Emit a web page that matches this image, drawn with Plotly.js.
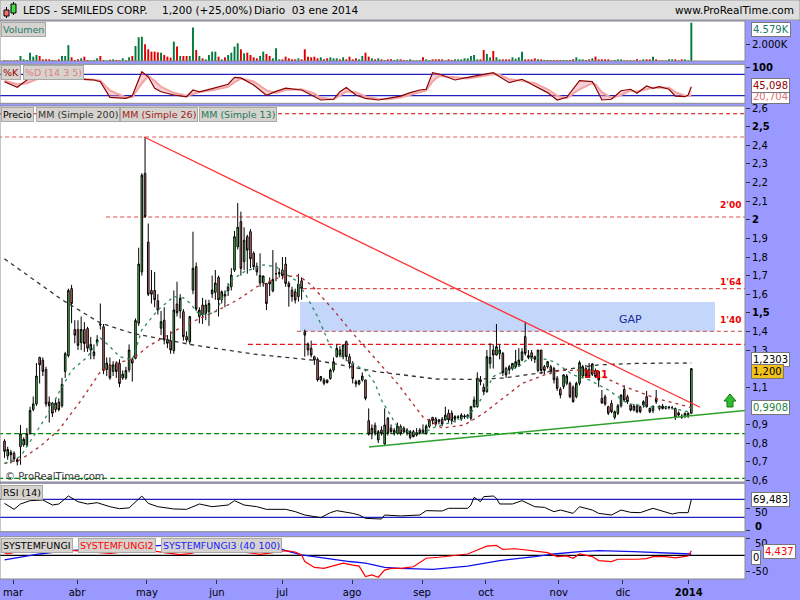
<!DOCTYPE html>
<html><head><meta charset="utf-8">
<script src="https://cdn.plot.ly/plotly-3.0.1.min.js"></script>
<style>html,body{margin:0;padding:0;background:#9999ff;}#chart{width:800px;height:600px;}</style>
</head><body><div id="chart"></div>
<script>
// ---------- DATA ----------
const priceOpen = [
0.81,0.73,0.75,0.745,0.71,0.78,0.79,0.79,0.85,0.98,
1.01,1.26,1.245,1.195,1.02,1.015,0.98,1.02,1.0,1.185,
1.27,1.63,1.41,1.41,1.34,1.41,1.415,1.30,1.27,1.34,
1.44,1.425,1.195,1.22,1.185,1.228,1.228,1.15,1.15,1.193,
1.25,1.255,1.444,1.72,2.25,1.88,1.62,1.62,1.565,1.417,
1.46,1.357,1.35,1.297,1.547,1.51,1.506,1.372,1.345,1.622,
1.748,1.48,1.542,1.497,1.506,1.602,1.61,1.69,1.57,1.60,
1.62,1.64,1.73,1.855,1.99,1.775,1.909,1.936,1.82,1.75,
1.66,1.662,1.658,1.668,1.618,1.71,1.71,1.73,1.762,1.658,
1.622,1.613,1.587,1.672,1.398,1.332,1.309,1.264,1.25,1.139,
1.139,1.139,1.147,1.192,1.264,1.30,1.264,1.345,1.264,1.228,
1.13,1.117,1.139,1.139,0.92,0.848,0.895,0.816,0.87,0.795,
0.933,0.88,0.852,0.852,0.888,0.88,0.87,0.83,0.861,0.843,
0.87,0.87,0.85,0.89,0.938,0.93,0.924,0.928,0.924,0.96,
0.96,0.928,0.938,0.931,0.94,0.94,0.933,0.995,0.995,1.14,
1.10,1.076,1.228,1.30,1.273,1.28,1.282,1.20,1.21,1.20,
1.21,1.22,1.246,1.372,1.27,1.285,1.264,1.19,1.30,1.21,
1.21,1.21,1.20,1.148,1.089,1.103,1.121,1.121,1.10,1.049,
1.121,1.16,1.20,1.196,1.17,1.19,1.184,1.04,1.049,0.995,
1.013,0.938,0.96,1.0,1.088,1.049,1.004,0.977,0.999,0.995,
1.004,1.049,0.986,0.974,1.04,0.986,0.999,0.995,0.99,0.99,
0.986,0.962,0.945,0.941,0.945,0.96];
const priceHigh = [
0.82,0.78,0.763,0.755,0.72,0.897,0.83,0.88,0.995,1.05,
1.23,1.264,1.26,1.21,1.05,1.02,1.04,1.04,1.15,1.29,
1.63,1.65,1.46,1.46,1.48,1.45,1.425,1.37,1.33,1.38,
1.55,1.44,1.26,1.26,1.24,1.24,1.25,1.19,1.21,1.33,
1.26,1.47,1.85,2.25,2.445,1.98,1.73,1.72,1.60,1.51,
1.53,1.38,1.40,1.62,1.667,1.60,1.52,1.40,1.48,1.936,
1.77,1.53,1.58,1.57,1.57,1.70,1.73,1.70,1.62,1.62,
1.66,1.74,1.94,2.09,2.044,1.96,1.92,1.95,1.83,1.77,
1.82,1.70,1.66,1.69,1.837,1.77,1.74,1.80,1.80,1.67,
1.64,1.63,1.71,1.69,1.41,1.34,1.35,1.27,1.26,1.16,
1.15,1.14,1.20,1.26,1.33,1.32,1.33,1.35,1.28,1.24,
1.14,1.14,1.18,1.14,0.986,0.90,0.91,0.87,0.89,0.986,
0.94,0.90,0.88,0.91,0.90,0.89,0.88,0.87,0.87,0.88,
0.88,0.90,0.90,0.93,0.94,0.94,0.93,0.94,0.995,0.98,
0.975,0.95,0.95,0.96,0.955,0.955,1.0,1.05,1.18,1.16,
1.12,1.30,1.336,1.33,1.44,1.33,1.29,1.21,1.22,1.23,
1.30,1.31,1.31,1.452,1.30,1.30,1.27,1.30,1.30,1.22,
1.24,1.22,1.21,1.16,1.10,1.17,1.17,1.13,1.11,1.13,
1.243,1.22,1.22,1.23,1.23,1.20,1.19,1.085,1.06,1.0,
1.03,0.975,1.01,1.06,1.11,1.06,1.01,1.01,1.01,1.0,
1.03,1.08,0.99,1.0,1.085,1.0,1.01,1.0,1.0,1.0,
0.99,0.97,0.955,0.965,0.965,1.20];
const priceLow = [
0.72,0.71,0.69,0.70,0.68,0.683,0.78,0.78,0.845,0.97,
1.0,1.12,1.16,0.995,0.91,0.94,0.965,0.97,0.99,1.15,
1.26,1.444,1.336,1.30,1.30,1.29,1.29,1.25,1.25,1.32,
1.41,1.17,1.16,1.14,1.16,1.15,1.10,1.14,1.14,1.18,
1.13,1.25,1.43,1.70,2.01,1.59,1.55,1.53,1.49,1.38,
1.33,1.31,1.28,1.28,1.48,1.47,1.35,1.34,1.33,1.60,
1.51,1.443,1.44,1.46,1.43,1.58,1.57,1.48,1.55,1.53,
1.59,1.62,1.72,1.84,1.70,1.73,1.71,1.74,1.73,1.70,
1.64,1.64,1.515,1.59,1.61,1.67,1.69,1.68,1.64,1.533,
1.56,1.55,1.56,1.57,1.264,1.27,1.26,1.22,1.13,1.13,
1.11,1.12,1.14,1.18,1.26,1.26,1.25,1.24,1.20,1.12,
1.10,1.11,1.13,1.03,0.84,0.82,0.84,0.80,0.84,0.79,
0.84,0.85,0.84,0.845,0.84,0.85,0.84,0.82,0.83,0.835,
0.845,0.85,0.845,0.88,0.90,0.89,0.90,0.89,0.92,0.91,
0.90,0.91,0.925,0.92,0.93,0.93,0.92,0.99,0.99,1.11,
1.06,1.07,1.20,1.20,1.27,1.25,1.16,1.15,1.17,1.19,
1.20,1.21,1.24,1.27,1.25,1.24,1.23,1.18,1.17,1.17,
1.20,1.17,1.12,1.08,1.04,1.09,1.11,1.04,1.017,1.04,
1.11,1.15,1.15,1.15,1.16,1.15,1.10,1.01,1.00,0.95,
0.96,0.927,0.95,0.99,1.02,1.01,0.97,0.97,0.96,0.96,
0.99,0.99,0.96,0.96,1.01,0.975,0.98,0.98,0.98,0.98,
0.924,0.94,0.93,0.935,0.935,0.955];
const priceClose = [
0.755,0.765,0.737,0.715,0.70,0.85,0.82,0.85,0.975,1.01,
1.16,1.22,1.185,1.01,1.0,0.96,1.015,0.98,1.115,1.28,
1.62,1.55,1.38,1.325,1.41,1.335,1.31,1.33,1.29,1.355,
1.435,1.19,1.23,1.15,1.22,1.184,1.12,1.17,1.19,1.30,
1.23,1.458,1.762,2.24,2.017,1.60,1.60,1.57,1.515,1.452,
1.354,1.336,1.30,1.515,1.50,1.578,1.372,1.354,1.48,1.739,
1.52,1.515,1.488,1.542,1.55,1.622,1.66,1.57,1.613,1.59,
1.64,1.703,1.909,1.96,1.739,1.89,1.837,1.79,1.748,1.72,
1.70,1.698,1.55,1.655,1.68,1.71,1.715,1.70,1.658,1.64,
1.587,1.569,1.654,1.631,1.38,1.30,1.273,1.246,1.139,1.157,
1.121,1.125,1.192,1.237,1.309,1.273,1.327,1.264,1.228,1.147,
1.117,1.135,1.16,1.04,0.848,0.879,0.855,0.861,0.85,0.897,
0.852,0.862,0.868,0.891,0.852,0.86,0.856,0.861,0.834,0.856,
0.852,0.855,0.891,0.924,0.92,0.902,0.915,0.902,0.95,0.924,
0.92,0.942,0.94,0.95,0.945,0.95,0.995,1.031,1.148,1.13,
1.076,1.264,1.26,1.273,1.318,1.30,1.178,1.166,1.193,1.228,
1.237,1.246,1.29,1.282,1.26,1.26,1.25,1.30,1.19,1.19,
1.237,1.184,1.14,1.094,1.058,1.166,1.16,1.049,1.022,1.121,
1.232,1.21,1.16,1.157,1.225,1.157,1.139,1.016,1.01,0.96,
0.968,0.968,1.0,1.058,1.031,1.022,0.977,0.999,0.968,0.968,
1.022,0.995,0.968,0.999,1.022,0.999,0.985,0.986,0.992,0.99,
0.938,0.95,0.938,0.959,0.96,1.20];
// volume in thousands of shares
const volumeK = [
100,80,60,80,100,600,200,120,1000,520,
720,600,200,200,200,120,80,200,600,600,
1900,440,120,200,320,520,120,80,120,320,
600,120,80,150,200,120,100,320,100,440,
600,1800,2840,2900,2000,1400,1120,1120,1040,1000,
720,520,400,2320,1720,600,600,600,600,4000,
1320,600,320,200,720,1120,1120,520,200,440,
720,1000,1720,2120,1400,920,1000,720,440,320,
600,1120,840,600,320,1520,200,200,520,320,
200,200,320,200,1400,520,440,520,320,440,
200,320,440,320,320,200,440,200,520,200,
320,200,600,1000,520,320,200,320,200,120,
200,200,120,200,200,120,100,200,80,80,
100,440,200,120,200,200,200,200,80,200,
120,200,200,200,320,320,600,720,200,200,
1320,840,440,1200,440,200,200,200,200,440,
280,440,1120,200,200,200,320,200,200,120,
120,120,120,120,120,120,120,120,200,440,
200,200,120,200,320,520,200,200,200,200,
80,120,200,200,80,80,80,80,200,80,
200,200,200,520,200,80,80,80,200,200,
200,80,200,200,80,4579];
// moving averages (trading-day index, value)
const mm200Idx = [0,18,30,40,58,78,98,116,135,146,156,170,186,198,215];
const mm200Val = [1.79,1.57,1.445,1.39,1.33,1.278,1.243,1.185,1.144,1.142,1.149,1.183,1.22,1.228,1.2303];
const mm26Idx = [0,5,11,17,24,30,35,40,45,53,58,67,73,79,86,92,96,103,109,116,123,131,137,144,150,156,162,169,174,183,193,204,215];
const mm26Val = [0.69,0.71,0.78,0.87,1.03,1.183,1.23,1.25,1.32,1.40,1.445,1.515,1.57,1.64,1.69,1.70,1.65,1.515,1.39,1.257,1.12,0.94,0.88,0.897,0.96,1.04,1.12,1.166,1.19,1.192,1.11,1.04,0.99];
const mm13Idx = [0,5,9,13,17,21,26,30,33,36,40,43,48,53,56,58,61,66,71,75,81,85,88,91,94,98,102,107,113,116,118,123,127,131,135,139,145,149,153,157,161,164,168,172,178,183,189,195,201,208,214,215];
const mm13Val = [0.69,0.727,0.834,0.94,1.07,1.19,1.264,1.364,1.318,1.264,1.246,1.408,1.515,1.587,1.58,1.553,1.49,1.50,1.676,1.72,1.757,1.748,1.71,1.676,1.606,1.48,1.318,1.246,1.19,1.12,1.03,0.888,0.855,0.852,0.888,0.907,0.94,1.03,1.157,1.19,1.21,1.256,1.256,1.237,1.166,1.139,1.085,1.013,0.995,0.99,0.968,0.9908];
// drawn trend lines and levels
const trendRedIdx = [43.7, 217.7];
const trendRedVal = [2.445, 0.992];
const trendGreenIdx = [114.1, 231.8];
const trendGreenVal = [0.779, 0.975];
const levelVals = [2.57, 2.445, 2.015, 1.63, 1.40, 1.33, 0.85, 0.61];
const levelStartIdx = [-2, -2, 31.8, 93.4, 91.5, 76.2, -2, -2];
const gapZone = [92.5, 222.4, 1.40, 1.558]; // idx from, idx to, low, high
// stochastic %K / %D (14 3 5)
const stochIdx = [0,4,7,10,14,19,25,28,30,33,38,40,43,45,47,49,53,57,59,61,65,70,72,74,78,82,85,88,93,97,99,103,105,107,110,113,117,120,124,127,130,132,134,136,141,145,149,153,155,158,162,166,170,173,176,180,184,185,187,190,193,196,198,201,203,205,208,210,213,214,215];
const stochK = [59,43.5,64,73,73,68,66,64,59,15.5,12.7,20,87,73,41,31,22,17,36,31,40,52,71.5,70,50,21,32,41,36,18,8,10,31,43,22,12.7,8,12.7,19,28.6,36,38,84.5,80.8,64,71.5,78,84.5,73.4,56.6,66,47.3,28.6,8,15.5,62,59.4,43.5,8,10,34,38,26.8,47.3,40.7,45.4,38,19,17.3,22,45.098];
const stochD = [62,52,55,66,72,70,67,65,62,35,15,16,55,75,62,45,28,20,25,30,35,45,58,68,60,35,28,36,38,26,14,10,20,32,30,18,11,10,15,22,30,35,60,75,72,68,74,80,79,66,62,55,38,20,13,38,55,52,30,14,22,34,32,38,42,43,42,30,20,19,20.7];
// RSI (14)
const rsiIdx = [0,3,5,8,12,15,17,20,23,26,29,33,36,39,43,45,48,53,57,59,61,65,70,72,75,79,82,88,91,94,99,102,104,109,111,113,118,119,124,130,132,137,139,145,146,147,149,150,153,154,155,159,162,166,169,172,174,178,180,184,186,190,193,196,199,203,206,209,211,214,215];
const rsiVal = [61,47.7,59.6,67,68.5,57.3,59.6,77.3,64.7,59.6,62.5,53.6,49.2,51,77.3,61,53.6,48.5,47.7,53.6,59.6,53.6,57.3,67,57.3,53.6,47.7,47.7,42.6,35.1,29.2,40.3,44.8,38.8,35.1,27.7,26.2,35.1,33,35.1,44.8,44,50,50,57.3,74.4,64.7,75.9,77.3,72.2,59.6,59.6,67,53.6,52.1,42.5,46.2,38.8,53.6,46.2,38.8,35.1,46.2,41,40.3,50,44,37.3,40.3,40.3,69.483];
// SYSTEMFUNGI2 (red) and SYSTEMFUNGI3 (blue)
const fungi2Idx = [0,1,4,10,20,30,33,36,45,50,55,58,62,70,78,80,84,88,91,93,94,97,100,103,106,109,111,113,115,117,119,121,124,128,132,136,139,145,148,151,154,156,160,165,170,173,176,178,180,184,186,190,192,198,201,203,207,210,214,215];
const fungi2Val = [8,4,11,14,16,8,6,9,16,8,2,5,14,16,6,3,8,14,10,1,-19,-37,-40,-33,-24,-30,-33,-65,-60,-67,-45,-40,-40,-35,-9,-6,-2,4,16,28,30,18,20,14,8,-4,-2,-9,4,-4,-16,-19,-12,-12,-10,-4,-4,-8,-2,14];
const fungi3Idx = [0,5,11,17,30,50,70,85,88,93,98,103,108,113,119,124,134,145,155,166,172,180,186,197,207,215];
const fungi3Val = [-14,-6,4,11,22,30,32,25,14,1,-6,-14,-19,-24,-37,-40,-43,-33,-16,-4,4,11,14,11,6,4];
// axis ticks
const monthTickIdx = [2.66,22.7,44.6,66.5,86.9,108.8,130.7,150.7,173.5,193.6,214.2];
const monthTickText = ['mar','abr','may','jun','jul','ago','sep','oct','nov','dic','<b>2014</b>'];
const priceTickVals = [0.6,0.7,0.8,0.9,1.1,1.3,1.4,1.5,1.6,1.7,1.8,1.9,2.0,2.1,2.2,2.3,2.4,2.5,2.6];
const priceTickText = ['0,6','0,7','0,8','0,9','1,1','1,3','1,4','<b>1,5</b>','1,6','1,7','1,8','1,9','<b>2</b>','2,1','2,2','2,3','2,4','<b>2,5</b>','2,6'];

// ---------- LAYOUT HELPERS ----------
const PW = 745, PH = 560, TOP = 20;
const X = px => px / PW;
const Y = py => (TOP + PH - py) / PH;
const FONT = 'DejaVu Sans, Verdana, sans-serif';
const days = priceOpen.map((_, i) => i);
const volColors = priceClose.map((c, i) => c >= priceOpen[i] ? '#007a3d' : '#dd0000');
const XR = [-1.41, 231.8];

const panels = { vol:[21,61], sto:[64.3,103.3], prc:[106,482], rsi:[483.3,531.7], fun:[536.7,579] };
const dom = p => [Y(panels[p][1]), Y(panels[p][0])];

const traces = [
  {type:'bar', x:days, y:volumeK, yaxis:'y', width:0.6, marker:{color:volColors, line:{width:0}}, hoverinfo:'skip'},
  {type:'scatter', mode:'lines', x:stochIdx, y:stochD, yaxis:'y2', line:{color:'#f2a3a3', width:2}, hoverinfo:'skip'},
  {type:'scatter', mode:'lines', x:stochIdx, y:stochK, yaxis:'y2', fill:'tonexty', fillcolor:'rgba(235,150,160,0.45)', line:{color:'#8b0000', width:1.2}, hoverinfo:'skip'},
  {type:'candlestick', x:days, open:priceOpen, high:priceHigh, low:priceLow, close:priceClose, yaxis:'y3',
    increasing:{line:{color:'#000000', width:1}, fillcolor:'#55dd55'},
    decreasing:{line:{color:'#000000', width:1}, fillcolor:'#f08080'}, whiskerwidth:0, hoverinfo:'skip'},
  {type:'scatter', mode:'lines', x:mm200Idx, y:mm200Val, yaxis:'y3', line:{color:'#333333', width:1.3, dash:'4px,4px'}, hoverinfo:'skip'},
  {type:'scatter', mode:'lines', x:mm26Idx, y:mm26Val, yaxis:'y3', line:{color:'#b03030', width:1.3, dash:'3px,4px'}, hoverinfo:'skip'},
  {type:'scatter', mode:'lines', x:mm13Idx, y:mm13Val, yaxis:'y3', line:{color:'#2e8b60', width:1.3, dash:'3px,4px'}, hoverinfo:'skip'},
  {type:'scatter', mode:'lines', x:trendRedIdx, y:trendRedVal, yaxis:'y3', line:{color:'#ff3030', width:1.3}, hoverinfo:'skip'},
  {type:'scatter', mode:'lines', x:trendGreenIdx, y:trendGreenVal, yaxis:'y3', line:{color:'#30a030', width:1.5}, hoverinfo:'skip'},
  {type:'scatter', mode:'lines', x:rsiIdx, y:rsiVal, yaxis:'y4', line:{color:'#000000', width:1}, hoverinfo:'skip'},
  {type:'scatter', mode:'lines', x:fungi3Idx, y:fungi3Val, yaxis:'y5', line:{color:'#1010ee', width:1.3}, hoverinfo:'skip'},
  {type:'scatter', mode:'lines', x:fungi2Idx, y:fungi2Val, yaxis:'y5', line:{color:'#ff0000', width:1.2}, hoverinfo:'skip'}
];

const yBase = {anchor:'x', side:'right', showgrid:false, zeroline:false, fixedrange:true, ticks:'outside', ticklen:4, tickcolor:'#333', showline:false, tickfont:{family:FONT, size:10, color:'#000'}};

const levelStyles = [
  {color:'#cc0000', dash:'4px,3px'}, {color:'#e06060', dash:'4px,3px'}, {color:'#e04848', dash:'4px,3px'},
  {color:'#e04848', dash:'4px,3px'}, {color:'#c87070', dash:'4px,3px'}, {color:'#ee1111', dash:'5px,3px'},
  {color:'#008800', dash:'5px,3px'}, {color:'#008800', dash:'5px,3px'}];

const shapes = [];
// header bar
shapes.push({type:'rect', xref:'paper', yref:'paper', x0:0, x1:800/PW, y0:Y(20), y1:Y(0), fillcolor:'#dedede', line:{color:'#9a9a9a', width:1}, layer:'above'});
// header icon
shapes.push({type:'line', xref:'paper', yref:'paper', x0:X(6.5), x1:X(6.5), y0:Y(18), y1:Y(7), line:{color:'#000', width:1}});
shapes.push({type:'rect', xref:'paper', yref:'paper', x0:X(4), x1:X(9), y0:Y(16), y1:Y(10), fillcolor:'#f07070', line:{color:'#000', width:1}});
shapes.push({type:'line', xref:'paper', yref:'paper', x0:X(13.5), x1:X(13.5), y0:Y(15), y1:Y(2), line:{color:'#000', width:1}});
shapes.push({type:'rect', xref:'paper', yref:'paper', x0:X(11), x1:X(16), y0:Y(13), y1:Y(4), fillcolor:'#44dd44', line:{color:'#000', width:1}});
// gap zone
shapes.push({type:'rect', xref:'x', yref:'y3', x0:gapZone[0], x1:gapZone[1], y0:gapZone[2], y1:gapZone[3], fillcolor:'#c4d6fa', line:{width:0}, layer:'below'});
// horizontal levels
levelVals.forEach((v, k) => shapes.push({type:'line', xref:'x', yref:'y3', x0:levelStartIdx[k], x1:XR[1], y0:v, y1:v, line:{color:levelStyles[k].color, width:1.2, dash:levelStyles[k].dash}, layer:'below'}));
// indicator reference lines
[[80,'y2'],[20,'y2'],[70,'y4'],[30,'y4']].forEach(([v,ax]) => shapes.push({type:'line', xref:'paper', yref:ax, x0:0, x1:1, y0:v, y1:v, line:{color:'#2020c0', width:1.2}, layer:'below'}));
shapes.push({type:'line', xref:'paper', yref:'y5', x0:0, x1:1, y0:0, y1:0, line:{color:'#000', width:1.2}, layer:'below'});
// panel borders
Object.keys(panels).forEach(p => { const d = dom(p); shapes.push({type:'rect', xref:'paper', yref:'paper', x0:0, x1:1, y0:d[0], y1:d[1], line:{color:'#8a8a8a', width:1}, fillcolor:'rgba(0,0,0,0)', layer:'above'}); });
// green up arrow
const arrowPts = [[730,394],[736,401],[733,401],[733,407],[727,407],[727,401],[724,401]];
shapes.push({type:'path', xref:'paper', yref:'paper', path:'M' + arrowPts.map(p => X(p[0]).toFixed(5)+','+Y(p[1]).toFixed(5)).join(' L') + ' Z', fillcolor:'#33bb33', line:{color:'#117711', width:1}, layer:'above'});

const ann = [];
function txt(text, px, py, opts) {
  ann.push(Object.assign({text:text, xref:'paper', yref:'paper', x:X(px), y:Y(py), showarrow:false, xanchor:'left', yanchor:'middle', font:{family:FONT, size:10, color:'#000'}}, opts || {}));
}
function tag(text, px, py, color) {
  txt(text, px, py, {yanchor:'top', bgcolor:'#d6d3ce', bordercolor:'#a8a8a8', borderwidth:1, borderpad:1, font:{family:FONT, size:9.5, color:color}});
}
function box(text, px, py, color, bg) {
  txt(text, px, py, {bgcolor:bg || '#ffffff', bordercolor:'#777777', borderwidth:1, borderpad:1, font:{family:FONT, size:10, color:color}});
}
// header texts
txt('LEDS - SEMILEDS CORP.', 21, 10.5, {font:{family:FONT, size:10.5, color:'#000'}});
txt('1,200 (+25,00%)', 160, 10.5, {font:{family:FONT, size:10.5, color:'#000'}});
txt('Diario\u00a0\u00a003 ene 2014', 252, 10.5, {font:{family:FONT, size:10.5, color:'#000'}});
txt('www.ProRealTime.com', 796, 10.5, {xanchor:'right', font:{family:FONT, size:10.5, color:'#000'}});
// panel legends
tag('Volumen', 1, 22, '#207a6a');
tag('%K', 1, 65, '#990000');
tag('%D (14 3 5)', 23, 65, '#e08080');
tag('Precio', 1, 107, '#000000');
tag('MM (Simple 200)', 36, 107, '#333333');
tag('MM (Simple 26)', 120, 107, '#a02020');
tag('MM (Simple 13)', 199, 107, '#207a5a');
tag('RSI (14)', 1, 484.5, '#000000');
tag('SYSTEMFUNGI', 1, 538, '#000000');
tag('SYSTEMFUNGI2', 78, 538, '#ff0000');
tag('SYSTEMFUNGI3 (40 100)', 161, 538, '#2020ff');
// price panel labels
const lvlFont = {family:FONT, size:9, color:'#ee0000'};
txt("<b>2'00</b>", 744, 205, {xanchor:'right', font:lvlFont});
txt("<b>1'64</b>", 744, 282, {xanchor:'right', font:lvlFont});
txt("<b>1'40</b>", 744, 320, {xanchor:'right', font:lvlFont});
txt('GAP', 617, 319, {font:{family:FONT, size:11, color:'#1a2aa0'}});
txt("<b>1'11</b>", 582, 374, {font:{family:FONT, size:10, color:'#ee0000'}});
txt('\u00a9 ProRealTime.com', 3, 476, {font:{family:FONT, size:10, color:'#404040'}});
// axis labels near panel edges, placed by hand like the reference
txt('50', 753, 512, {font:{family:FONT, size:10, color:'#000'}});
txt('<b>0</b>', 753, 526, {font:{family:FONT, size:10, color:'#000'}});
txt('50', 753, 543, {font:{family:FONT, size:10, color:'#000'}});
// right-hand value boxes
box('4.579K', 751, 29, '#1a7a6a');
box('20,704', 751, 97, '#e07070');
box('45,098', 751, 85, '#990000');
box('1,2303', 751, 359, '#000000');
box('1,200', 751, 371, '#000000', '#f2c21b');
box('0,9908', 751, 407, '#1f7f3f');
box('69,483', 751, 499, '#000000');
box('4,437', 763, 551, '#ff0000');
box('0', 751, 557, '#000000');

const layout = {
  width:800, height:600, margin:{l:0, r:55, t:20, b:20}, showlegend:false,
  paper_bgcolor:'#9999ff', plot_bgcolor:'#ffffff',
  xaxis:{anchor:'y5', range:XR, fixedrange:true, showgrid:false, zeroline:false, showline:false, rangeslider:{visible:false},
    tickvals:monthTickIdx, ticktext:monthTickText, ticks:'outside', ticklen:4, tickcolor:'#333', tickfont:{family:FONT, size:10, color:'#000'}},
  yaxis: Object.assign({}, yBase, {domain:dom('vol'), range:[0, 4782], tickvals:[2000], ticktext:['2.000K']}),
  yaxis2: Object.assign({}, yBase, {domain:dom('sto'), range:[-1.3, 108], tickvals:[100], ticktext:['<b>100</b>']}),
  yaxis3: Object.assign({}, yBase, {domain:dom('prc'), range:[0.5903, 2.6118], tickvals:priceTickVals, ticktext:priceTickText}),
  yaxis4: Object.assign({}, yBase, {domain:dom('rsi'), range:[-2, 105.6], tickvals:[50, 0], ticktext:['', '']}),
  yaxis5: Object.assign({}, yBase, {domain:dom('fun'), range:[-72.3, 56.7], tickvals:[50, -50], ticktext:['', '-50']}),
  shapes:shapes, annotations:ann
};

Plotly.newPlot('chart', traces, layout, {displayModeBar:false, staticPlot:true});
</script></body></html>
